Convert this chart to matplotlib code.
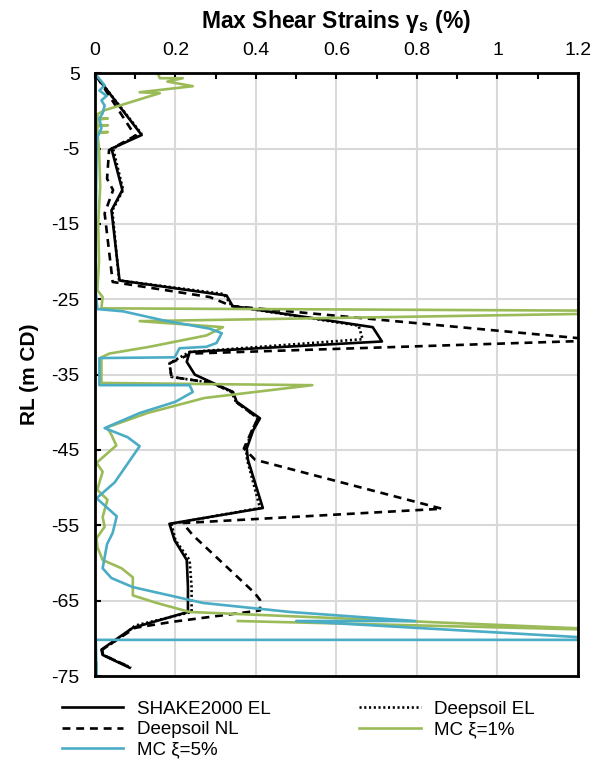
import numpy as np
import matplotlib.pyplot as plt
from matplotlib.ticker import MultipleLocator

plt.rcParams['font.family'] = ['Liberation Sans', 'DejaVu Sans']
plt.rcParams['mathtext.fontset'] = 'custom'
plt.rcParams['mathtext.rm'] = 'Liberation Sans'
plt.rcParams['mathtext.bf'] = 'Liberation Sans:bold'
plt.rcParams['axes.unicode_minus'] = False

# SHAKE2000 equivalent linear
shake_rl = [4.5, -3.2, -5.0, -10.5, -13.2, -22.5, -24.5, -25.9, -28.7, -30.6,
            -32.0, -33.3, -35.0, -36.1, -37.3, -38.6, -40.8, -42.4, -44.8, -46.3,
            -52.7, -54.8, -57.0, -59.6, -63.2, -66.5, -68.6, -70.0, -71.5, -72.2, -73.9]
shake_gs = [0.005, 0.116, 0.041, 0.068, 0.041, 0.061, 0.327, 0.342, 0.69, 0.713,
            0.235, 0.228, 0.248, 0.293, 0.343, 0.352, 0.41, 0.393, 0.377, 0.38,
            0.417, 0.185, 0.198, 0.228, 0.231, 0.231, 0.094, 0.056, 0.016, 0.019, 0.086]

# Deepsoil equivalent linear
dsel_rl = [4.5, -3.0, -5.0, -10.5, -13.2, -22.5, -24.3, -25.9, -28.5, -30.3,
           -32.0, -33.5, -35.3, -36.1, -37.3, -38.6, -40.8, -42.4, -44.8, -46.3,
           -52.7, -54.8, -57.0, -59.6, -63.2, -66.5, -68.3, -70.0, -71.5, -72.2, -73.9]
dsel_gs = [0.005, 0.115, 0.045, 0.07, 0.043, 0.06, 0.32, 0.34, 0.655, 0.665,
           0.235, 0.185, 0.19, 0.29, 0.34, 0.35, 0.405, 0.39, 0.375, 0.378,
           0.41, 0.19, 0.2, 0.235, 0.24, 0.24, 0.1, 0.06, 0.018, 0.02, 0.09]

# Deepsoil nonlinear
dsnl_rl = [4.5, -3.3, -5.2, -9.0, -10.5, -13.6, -22.7, -24.7, -25.9, -30.45,
           -32.2, -33.5, -35.3, -36.1, -37.3, -38.6, -40.8, -42.4, -44.8, -46.3,
           -52.8, -54.7, -56.3, -64.0, -64.9, -66.3, -67.8, -68.6, -70.0, -71.5, -72.2, -73.9]
dsnl_gs = [0.005, 0.1, 0.035, 0.03, 0.045, 0.024, 0.044, 0.285, 0.34, 1.26,
           0.24, 0.185, 0.19, 0.29, 0.34, 0.35, 0.405, 0.39, 0.37, 0.398,
           0.862, 0.218, 0.243, 0.397, 0.41, 0.41, 0.193, 0.1, 0.06, 0.018, 0.02, 0.09]

# Monte Carlo, 1% damping
mc1_rl = [5.0, 4.34, 4.34, 3.9, 3.28, 2.48, 2.35, 1.95, 0.09, -0.44,
          -1.0, -1.0, -1.15, -1.9, -1.9, -2.05, -2.8, -2.8, -2.95,
          -5.0, -10.0, -15.0, -20.0, -23.8, -24.7, -26.2, -26.6, -27.9, -28.7,
          -29.8, -31.3, -32.2, -32.7, -36.1, -36.4, -38.1, -40.1, -42.0, -43.0,
          -44.4, -46.7, -47.9, -49.3, -50.3, -51.6, -53.9, -55.2, -56.7, -57.9,
          -59.6, -60.7, -61.9, -64.3, -65.3, -66.5, -69.0, -67.7, np.nan, -73.3, -75.0]
mc1_gs = [0.156, 0.161, 0.218, 0.18, 0.243, 0.111, 0.161, 0.136, 0.024, 0.006,
          0.006, 0.032, 0.006, 0.006, 0.032, 0.006, 0.006, 0.032, 0.006,
          0.01, 0.013, 0.008, 0.01, 0.006, 0.019, 0.016, 1.6, 0.111, 0.318,
          0.277, 0.136, 0.036, 0.016, 0.016, 0.54, 0.272, 0.13, 0.03, 0.041,
          0.053, 0.004, 0.019, 0.011, 0.006, 0.031, 0.019, 0.024, 0.004, 0.006,
          0.019, 0.066, 0.094, 0.094, 0.153, 0.235, 1.35, 0.355, np.nan, 0.004, 0.004]

# Monte Carlo, 5% damping
mc5_rl = [4.7, 3.4, 2.7, 2.0, 1.4, 0.7, -0.3, -1.0, -2.3, -3.5,
          -5.0, -15.0, -24.0, -26.3, -26.6, -27.8, -28.9, -29.5, -30.8, -31.3,
          -31.5, -32.7, -32.8, -36.4, -36.4, -37.3, -38.6, -40.1, -42.1, -43.3,
          -44.5, -49.3, -51.4, -52.7, -53.8, -56.0, -57.5, -60.7, -62.0, -63.2,
          -65.3, -66.5, -67.7, -67.7, -70.2, -70.2, -75.0]
mc5_gs = [0.004, 0.024, 0.011, 0.029, 0.016, 0.024, 0.019, 0.011, 0.016, 0.006,
          0.004, 0.002, 0.002, 0.006, 0.07, 0.17, 0.285, 0.315, 0.302, 0.277,
          0.21, 0.198, 0.011, 0.011, 0.235, 0.243, 0.2, 0.111, 0.024, 0.081,
          0.111, 0.049, 0.004, 0.031, 0.054, 0.044, 0.03, 0.019, 0.041, 0.094,
          0.268, 0.485, 0.796, 0.5, 1.32, 0.002, 0.004]

green = '#9bbb59'
blue = '#4bacc6'
lw = 1.9

fig = plt.figure(figsize=(6.0, 7.63), dpi=100)
ax = fig.add_axes([0.1583, 0.114, 0.805, 0.790])

l1, = ax.plot(shake_gs, shake_rl, color='black', lw=lw, label='SHAKE2000 EL')
l2, = ax.plot(dsel_gs, dsel_rl, color='black', lw=lw, ls=(0, (0.8, 1.0)),
              label='Deepsoil EL')
l3, = ax.plot(dsnl_gs, dsnl_rl, color='black', lw=lw, ls=(0, (3.0, 2.2)),
              label='Deepsoil NL')
l4, = ax.plot(mc1_gs, mc1_rl, color=green, lw=lw, label='MC ξ=1%')
l5, = ax.plot(mc5_gs, mc5_rl, color=blue, lw=lw, label='MC ξ=5%')

ax.set_xlim(0, 1.2)
ax.set_ylim(-75, 5)
ax.xaxis.tick_top()
ax.xaxis.set_label_position('top')
ax.set_xticks([0, 0.2, 0.4, 0.6, 0.8, 1.0, 1.2])
ax.set_xticklabels(['0', '0.2', '0.4', '0.6', '0.8', '1', '1.2'])
ax.xaxis.set_minor_locator(MultipleLocator(0.1))
ax.set_yticks(np.arange(5, -76, -10))
ax.tick_params(axis='both', labelsize=14, direction='in', width=1.5, length=4)
ax.tick_params(axis='x', which='minor', direction='in', width=1.5, length=4,
               top=True, bottom=False)
ax.tick_params(axis='x', pad=10)
ax.tick_params(axis='y', pad=11)
ax.grid(True, color='#d9d9d9', lw=1.5)
ax.set_axisbelow(True)
for s in ax.spines.values():
    s.set_linewidth(2)
    s.set_color('black')

ax.set_xlabel('Max Shear Strains γ$_\\mathbf{s}$ (%)', fontsize=16.5,
              fontweight='bold', labelpad=10)
ax.set_ylabel('RL (m CD)', fontsize=15, fontweight='bold', labelpad=9)

fig.legend([l1, l3, l5, l2, l4],
           ['SHAKE2000 EL', 'Deepsoil NL', 'MC ξ=5%', 'Deepsoil EL', 'MC ξ=1%'],
           ncol=2, loc='upper left', bbox_to_anchor=(0.087, 0.0937),
           frameon=False, fontsize=13.5, handlelength=3.3, handletextpad=0.7,
           columnspacing=4.75, labelspacing=0.17, borderpad=0)

fig.savefig('out.png', dpi=100)
